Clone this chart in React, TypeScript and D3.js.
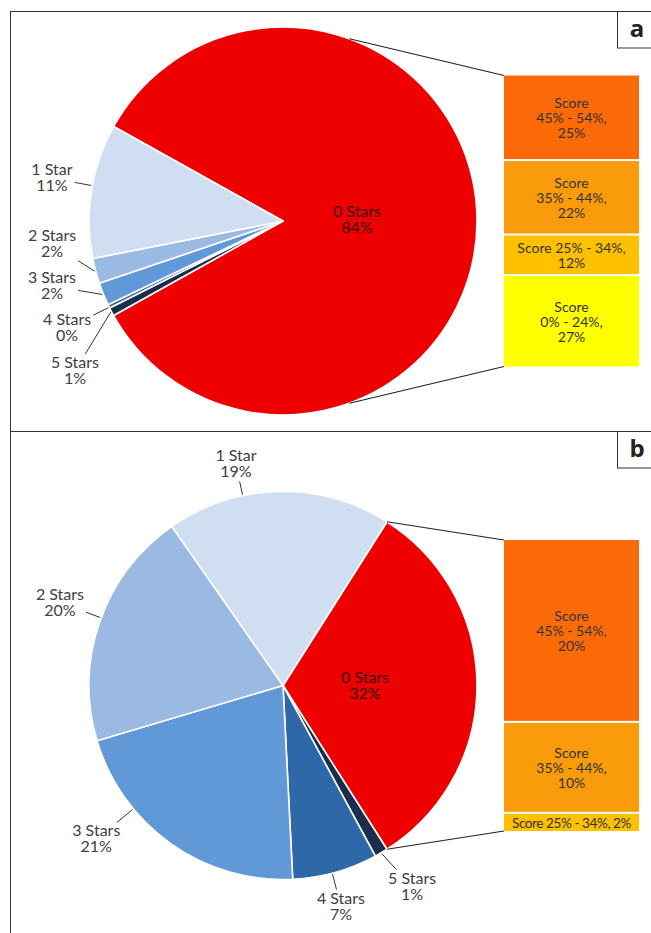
import React from 'react';
import * as d3 from 'd3';

// ---------- data ----------
const starCategories = ['0 Stars', '1 Star', '2 Stars', '3 Stars', '4 Stars', '5 Stars'];
const starColors = ['#EE0000', '#D0DEF2', '#9ABAE3', '#6198D8', '#2F68A8', '#1A2D4B'];
const starValuesA = [83.8, 11.2, 2.1, 1.9, 0.3, 0.7];
const starValuesB = [32.0, 18.7, 19.9, 21.2, 7.1, 1.1];
const scoreCategories = ['Score 45% - 54%', 'Score 35% - 44%', 'Score 25% - 34%', 'Score 0% - 24%'];
const scoreColors = ['#FD6A08', '#F99B0B', '#FFC000', '#FFFF00'];
const scoreValuesA = [25, 22, 12, 27];
const scoreValuesB = [20, 10, 2];
const panelLetters = ['a', 'b'];

// label placement (polar: degrees clockwise from 12 o'clock, distance from centre)
const labelLayoutA = [
  { ang: 89, dist: 74 }, { ang: 280.5, dist: 235 }, { ang: 264.3, dist: 232 },
  { ang: 254.3, dist: 240 }, { ang: 243.6, dist: 241 }, { ang: 234.2, dist: 256.5 },
];
const labelLayoutB = [
  { ang: 90, dist: 82 }, { ang: 348, dist: 226 }, { ang: 290.4, dist: 238 },
  { ang: 230.5, dist: 242 }, { ang: 165.3, dist: 228.5 }, { ang: 147.3, dist: 239 },
];

// ---------- layout ----------
const W = 651, H = 933;
const FONT = 'Lato, "Open Sans", sans-serif';
const LABEL_SIZE = 16;
const R = 194;
const panels = [
  { values: starValuesA, scores: scoreValuesA, layout: labelLayoutA, cx: 283, cy: 221, top: 11.5, bottom: 431.5 },
  { values: starValuesB, scores: scoreValuesB, layout: labelLayoutB, cx: 283, cy: 685.5, top: 431.5, bottom: 960 },
];
const BAR_X = 504, BAR_W = 135;
const drawOrder = [0, 5, 4, 3, 2, 1];

let ctx: CanvasRenderingContext2D | null = null;
function textWidth(t: string, size: number, weight = 'normal') {
  if (!ctx) ctx = document.createElement('canvas').getContext('2d');
  if (!ctx) return t.length * size * 0.5;
  ctx.font = `${weight} ${size}px Lato`;
  return ctx.measureText(t).width;
}

const pt = (cx: number, cy: number, a: number, r: number) => [cx + r * Math.sin(a), cy - r * Math.cos(a)];

function Panel({ p, letter }: any) {
  const total = d3.sum(p.values as number[]);
  const redFrac = p.values[0] / total;
  const start = Math.PI / 2 - redFrac * Math.PI;
  const pie = d3.pie<number>().sort(null).value((i) => p.values[i]).startAngle(start).endAngle(start + 2 * Math.PI);
  const arcs = pie(drawOrder);
  const arc = d3.arc<any>().innerRadius(0).outerRadius(R);

  // connector lines
  const half = Math.min(redFrac * Math.PI, (70 * Math.PI) / 180);
  const cTop = pt(p.cx, p.cy, Math.PI / 2 - half, R);
  const cBot = pt(p.cx, p.cy, Math.PI / 2 + half, R);
  const barH = R * 1.5;
  const barTop = p.cy - barH / 2;
  const scoreTotal = d3.sum(p.scores as number[]);
  const y = d3.scaleLinear().domain([0, scoreTotal]).range([barTop, barTop + barH]);
  let cum = 0;
  const bars = (p.scores as number[]).map((v, i) => {
    const y0 = y(cum); cum += v; const y1 = y(cum);
    return { i, v, y0: y0 + (i === 0 ? 0 : 1), y1: y1 - (i === p.scores.length - 1 ? 0 : 1) };
  });

  return (
    <g>
      {arcs.map((a) => (
        <path key={a.data} d={arc(a) as string} transform={`translate(${p.cx},${p.cy})`}
          fill={starColors[a.data]} stroke="#fff" strokeWidth={1.6} strokeLinejoin="round" />
      ))}
      <line x1={cTop[0]} y1={cTop[1]} x2={BAR_X} y2={barTop} stroke="#222" strokeWidth={1.1} />
      <line x1={cBot[0]} y1={cBot[1]} x2={BAR_X} y2={barTop + barH} stroke="#222" strokeWidth={1.1} />
      {bars.map((b) => {
        const h = b.y1 - b.y0;
        const cat = scoreCategories[b.i];
        const pct = `${b.v}%`;
        let lines: string[]; let fs = 14; let ls = 0;
        if (h >= 60) lines = ['Score', cat.replace('Score ', '') + ',', pct];
        else if (h >= 30) lines = [cat + ',', pct];
        else { lines = [cat + ', ' + pct]; fs = 13.5; ls = -0.4; }
        const cy = (b.y0 + b.y1) / 2;
        const lh = 15;
        const first = cy - ((lines.length - 1) * lh) / 2 + 5.5;
        return (
          <g key={b.i}>
            <rect x={BAR_X} y={b.y0} width={BAR_W} height={h} fill={scoreColors[b.i]} />
            <text x={BAR_X + BAR_W / 2} textAnchor="middle" fontFamily={FONT} fontSize={fs} fill="#333" letterSpacing={ls}>
              {lines.map((l, k) => <tspan key={k} x={BAR_X + BAR_W / 2} y={first + k * lh}>{l}</tspan>)}
            </text>
          </g>
        );
      })}
      {starCategories.map((name, i) => {
        const L = p.layout[i];
        const la = (L.ang * Math.PI) / 180;
        const [lx, ly] = pt(p.cx, p.cy, la, L.dist);
        const pctText = `${Math.round(p.values[i])}%`;
        let leader = null;
        if (i !== 0) {
          const s = arcs.find((a) => a.data === i)!;
          let ang = la;
          while (ang < start) ang += 2 * Math.PI;
          while (ang >= start + 2 * Math.PI) ang -= 2 * Math.PI;
          const endA = ang >= s.startAngle && ang <= s.endAngle ? ang : (s.startAngle + s.endAngle) / 2;
          const [px, py] = pt(p.cx, p.cy, endA, R + 1);
          const w = Math.max(textWidth(name, LABEL_SIZE), textWidth(pctText, LABEL_SIZE));
          const x0 = lx - w / 2 - 2, x1 = lx + w / 2 + 2, y0 = ly - 17, y1 = ly + 17;
          // slab intersection from P toward label centre
          const dx = lx - px, dy = ly - py;
          let tEnter = 0;
          if (dx !== 0) { const t = ((dx > 0 ? x0 : x1) - px) / dx; tEnter = Math.max(tEnter, t); }
          if (dy !== 0) { const t = ((dy > 0 ? y0 : y1) - py) / dy; tEnter = Math.max(tEnter, t); }
          tEnter = Math.min(Math.max(tEnter, 0), 1);
          leader = <line x1={px} y1={py} x2={px + dx * tEnter} y2={py + dy * tEnter} stroke="#333" strokeWidth={1} />;
        }
        return (
          <g key={name}>
            {leader}
            <text textAnchor="middle" fontFamily={FONT} fontSize={LABEL_SIZE} fill={i === 0 ? '#3a1010' : '#404040'}>
              <tspan x={lx} y={ly - 3}>{name}</tspan>
              <tspan x={lx} y={ly + 13}>{pctText}</tspan>
            </text>
          </g>
        );
      })}
      <rect x={617.5} y={p.top} width={50} height={36.5} fill="#fff" stroke="#333" strokeWidth={1} />
      <text x={637} y={p.top + 25} textAnchor="middle" fontFamily={'"Open Sans", sans-serif'} fontWeight="bold" fontSize={24} fill="#222">{letter}</text>
    </g>
  );
}

export default function App() {
  return (
    <svg width={W} height={H} viewBox={`0 0 ${W} ${H}`} style={{ position: 'absolute', left: 0, top: 0, background: '#fff' }}>
      <rect x={0} y={0} width={W} height={H} fill="#fff" />
      <rect x={10.5} y={11.5} width={700} height={1000} fill="none" stroke="#333" strokeWidth={1} />
      <line x1={10.5} x2={W + 10} y1={431.5} y2={431.5} stroke="#333" strokeWidth={1} />
      {panels.map((p, i) => <Panel key={i} p={p} letter={panelLetters[i]} />)}
    </svg>
  );
}
